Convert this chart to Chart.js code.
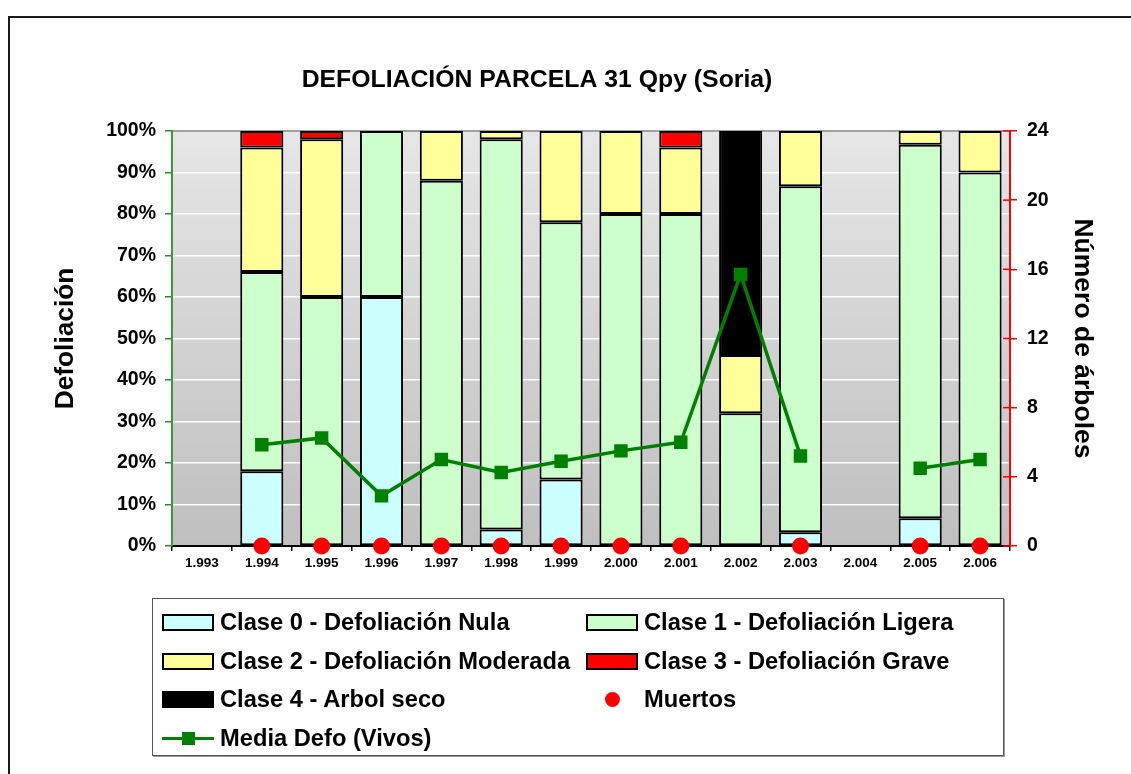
<!DOCTYPE html>
<html>
<head>
<meta charset="utf-8">
<script src="https://cdn.jsdelivr.net/npm/chart.js@4.4.0/dist/chart.umd.min.js"></script>
<style>
  html, body { margin: 0; padding: 0; background: #fff; overflow: hidden; }
  body { width: 1131px; height: 774px; position: relative; font-family: "Liberation Sans", Arial, sans-serif; }
  #frame { position: absolute; left: 8px; top: 16px; width: 1200px; height: 900px; border: 2px solid #1a1a1a; }
  #wrap { position: absolute; left: 0; top: 0; width: 1131px; height: 774px; }
  #legend {
    position: absolute; left: 152px; top: 598px; width: 852px; height: 158px;
    border: 1px solid #555; box-shadow: 1px 1px 0 #999; background: #fff;
    box-sizing: border-box; padding: 4px 0 0 9px;
    display: grid; grid-template-columns: 424px 400px; grid-auto-rows: 38.7px;
    font-weight: bold; font-size: 23.7px; color: #000;
  }
  .item { display: flex; align-items: center; white-space: nowrap; }
  .sw { width: 52px; height: 17px; margin-right: 6px; position: relative; flex: none; box-sizing: border-box; }
</style>
</head>
<body>
<div id="frame"></div>
<div id="wrap"><canvas id="chart" width="1131" height="774"></canvas></div>
<div id="legend"></div>
<script>
// years on the x axis
const years = ['1.993','1.994','1.995','1.996','1.997','1.998','1.999','2.000','2.001','2.002','2.003','2.004','2.005','2.006'];

// % of trees in each defoliation class
const clase0 = [null, 18, null, 60, null, 4, 16, null, null, null, 3.3, null, 6.7, null];
const clase1 = [null, 48, 60, 40, 88, 94, 62, 80, 80, 32, 83.4, null, 90, 90];
const clase2 = [null, 30, 38, null, 12, 2, 22, 20, 16, 14, 13.3, null, 3.3, 10];
const clase3 = [null, 4, 2, null, null, null, null, null, 4, null, null, null, null, null];
const clase4 = [null, null, null, null, null, null, null, null, null, 54, null, null, null, null];

// right axis (numero de arboles)
const muertos = [null, 0, 0, 0, 0, 0, 0, 0, 0, null, 0, null, 0, 0];
const mediaDefo = [null, 5.85, 6.25, 2.9, 5.0, 4.25, 4.9, 5.5, 6.0, 15.7, 5.2, null, 4.5, 5.0];

const pctTicks = [0, 10, 20, 30, 40, 50, 60, 70, 80, 90, 100];
const treeTicks = [0, 4, 8, 12, 16, 20, 24];

Chart.defaults.font.family = '"Liberation Sans", Arial, sans-serif';
Chart.defaults.font.weight = 'bold';
Chart.defaults.color = '#000';

function barSet(label, data, color) {
  return {
    type: 'bar', label: label, data: data, yAxisID: 'y', order: 2,
    backgroundColor: color, borderColor: '#000', borderWidth: 2, borderSkipped: false,
    barPercentage: 0.72, categoryPercentage: 1
  };
}

// gray gradient plot background + frame
const plotBg = {
  id: 'plotBg',
  beforeDraw(chart) {
    const a = chart.chartArea, ctx = chart.ctx;
    const g = ctx.createLinearGradient(0, a.top, 0, a.bottom);
    g.addColorStop(0, '#e6e6e6');
    g.addColorStop(1, '#bfbfbf');
    ctx.save();
    ctx.fillStyle = g;
    ctx.fillRect(a.left, a.top, a.right - a.left, a.bottom - a.top);
    ctx.strokeStyle = '#888';
    ctx.lineWidth = 1.5;
    ctx.strokeRect(a.left, a.top, a.right - a.left, a.bottom - a.top);
    ctx.restore();
  },
  afterDatasetsDraw(chart) {
    // inner half of the red ticks on the right axis
    const s = chart.scales.y2, ctx = chart.ctx, a = chart.chartArea;
    ctx.save();
    ctx.strokeStyle = '#ff0000';
    ctx.lineWidth = 1.5;
    s.ticks.forEach(t => {
      const y = s.getPixelForValue(t.value);
      ctx.beginPath();
      ctx.moveTo(a.right - 7, y);
      ctx.lineTo(a.right, y);
      ctx.stroke();
    });
    ctx.restore();
  },
  afterLayout(chart) {
    // title sits left of centre in the original
    const t = chart.titleBlock;
    const dx = 537 - (t.left + t.right) / 2;
    t.left += dx; t.right += dx;
  }
};

const chart = new Chart(document.getElementById('chart'), {
  data: {
    labels: years,
    datasets: [
      barSet('Clase 0 - Defoliación Nula', clase0, '#ccffff'),
      barSet('Clase 1 - Defoliación Ligera', clase1, '#ccffcc'),
      barSet('Clase 2 - Defoliación Moderada', clase2, '#ffff99'),
      barSet('Clase 3 - Defoliación Grave', clase3, '#ff0000'),
      barSet('Clase 4 - Arbol seco', clase4, '#000000'),
      {
        type: 'line', label: 'Muertos', data: muertos, yAxisID: 'y2', order: 0,
        showLine: false, pointStyle: 'circle', pointRadius: 8.5,
        backgroundColor: '#ff0000', borderColor: '#ff0000', pointBorderWidth: 0, clip: false
      },
      {
        type: 'line', label: 'Media Defo (Vivos)', data: mediaDefo, yAxisID: 'y2', order: 1,
        borderColor: '#008000', backgroundColor: '#008000', borderWidth: 3.5,
        pointStyle: 'rect', pointRadius: 9.5, pointBorderWidth: 0, spanGaps: false, tension: 0
      }
    ]
  },
  options: {
    responsive: false,
    animation: false,
    layout: { padding: { left: 10, right: 10, top: 0, bottom: 0 } },
    plugins: {
      legend: { display: false },
      tooltip: { enabled: false },
      title: {
        display: true,
        text: 'DEFOLIACIÓN PARCELA 31 Qpy (Soria)',
        font: { size: 24.8, weight: 'bold' },
        padding: { top: 65.1, bottom: 36.1 }
      }
    },
    scales: {
      x: {
        stacked: true,
        grid: { offset: true, drawOnChartArea: false, color: '#000', tickLength: 5, lineWidth: 1.5 },
        border: { color: '#000', width: 2 },
        ticks: { font: { size: 13.5, weight: 'bold' }, padding: 4, maxRotation: 0, autoSkip: false },
        afterFit(s) { s.height = 228; }
      },
      y: {
        stacked: true, min: 0, max: 100,
        afterBuildTicks(s) { s.ticks = pctTicks.map(v => ({ value: v })); },
        ticks: { callback: v => v + '%', font: { size: 19.5, weight: 'bold' }, padding: 9 },
        grid: {
          color: c => (c.tick.value === 0 || c.tick.value === 100) ? 'rgba(0,0,0,0)' : '#ffffff',
          tickColor: '#2e8b2e', tickLength: 7, lineWidth: 1.5
        },
        border: { color: '#3a993a', width: 2 },
        title: { display: true, text: 'Defoliación', font: { size: 26.3, weight: 'bold' }, padding: { top: 40.2, bottom: 0 } },
        afterFit(s) { s.width = 162; }
      },
      y2: {
        position: 'right', min: 0, max: 24,
        afterBuildTicks(s) { s.ticks = treeTicks.map(v => ({ value: v })); },
        ticks: { font: { size: 19.5, weight: 'bold' }, padding: 10 },
        grid: { drawOnChartArea: false, color: '#ff0000', tickLength: 7, lineWidth: 1.5 },
        border: { color: '#ff0000', width: 2 },
        title: { display: true, text: 'Número de árboles', font: { size: 26.5, weight: 'bold' }, padding: { top: 23.1, bottom: 0 } },
        afterFit(s) { s.width = 111; }
      }
    }
  },
  plugins: [plotBg]
});

// HTML legend in two columns, built from the chart's datasets
const legendEl = document.getElementById('legend');
chart.data.datasets.forEach(ds => {
  const item = document.createElement('div');
  item.className = 'item';
  const sw = document.createElement('span');
  sw.className = 'sw';
  if (ds.type === 'bar') {
    sw.style.background = ds.backgroundColor;
    sw.style.border = '2px solid #000';
  } else if (ds.showLine === false) {
    sw.innerHTML = '<span style="position:absolute;left:19px;top:1px;width:15px;height:15px;border-radius:50%;background:' + ds.backgroundColor + '"></span>';
  } else {
    sw.innerHTML = '<span style="position:absolute;left:0;top:7px;width:52px;height:3.5px;background:' + ds.borderColor + '"></span>' +
      '<span style="position:absolute;left:20px;top:2px;width:13px;height:13px;background:' + ds.backgroundColor + '"></span>';
  }
  item.appendChild(sw);
  item.appendChild(document.createTextNode(ds.label));
  legendEl.appendChild(item);
});
</script>
</body>
</html>
